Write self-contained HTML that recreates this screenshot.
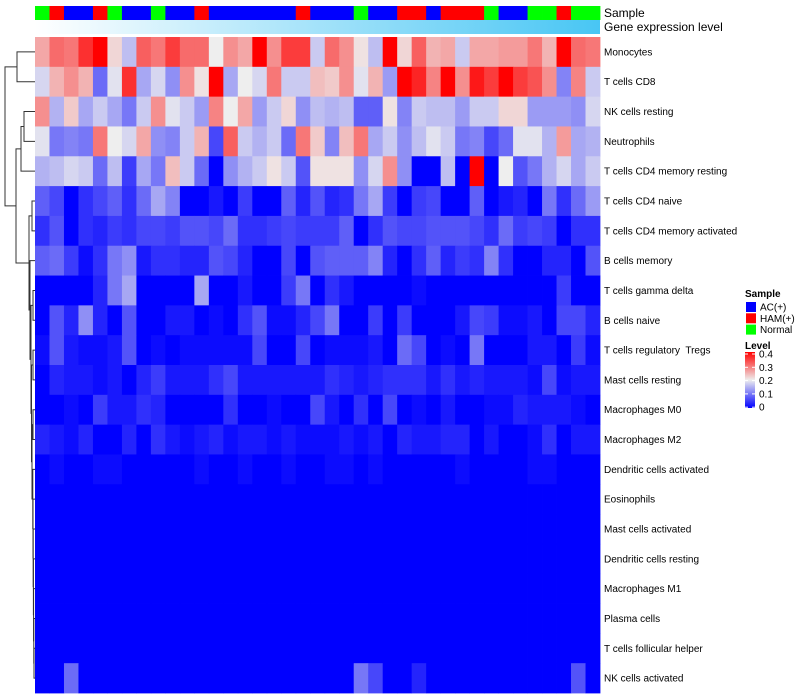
<!DOCTYPE html>
<html><head><meta charset="utf-8"><style>
body{margin:0;background:#fff;}
svg{display:block;font-family:"Liberation Sans",Arial,sans-serif;}
svg text{white-space:pre;}
</style></head><body>
<svg id="chart" width="800" height="700"></svg>
<script>
const rowNames=["Monocytes","T cells CD8","NK cells resting","Neutrophils","T cells CD4 memory resting","T cells CD4 naive","T cells CD4 memory activated","B cells memory","T cells gamma delta","B cells naive","T cells regulatory  Tregs","Mast cells resting","Macrophages M0","Macrophages M2","Dendritic cells activated","Eosinophils","Mast cells activated","Dendritic cells resting","Macrophages M1","Plasma cells","T cells follicular helper","NK cells activated"];
const sampleGroups="GRBBRGBBGBBRBBBBBBRBBBGBBRRBRRRGBBGGRGG".split("");
const r0=[.26,.31,.30,.36,.40,.22,.16,.32,.30,.35,.31,.31,.20,.28,.26,.40,.28,.35,.35,.17,.31,.28,.21,.16,.40,.22,.32,.25,.26,.17,.26,.26,.27,.27,.30,.25,.40,.31,.30];
const r1=[.18,.25,.28,.25,.09,.19,.36,.14,.18,.12,.28,.21,.40,.14,.20,.18,.30,.17,.17,.24,.23,.28,.19,.25,.13,.40,.37,.29,.40,.28,.38,.35,.40,.35,.33,.28,.11,.29,.17];
const r2=[.28,.15,.23,.14,.17,.14,.10,.17,.28,.19,.17,.13,.29,.20,.26,.13,.17,.22,.12,.16,.15,.16,.08,.08,.21,.11,.17,.16,.16,.13,.17,.17,.22,.22,.13,.13,.13,.12,.18];
const r3=[.19,.10,.11,.10,.30,.20,.18,.26,.12,.11,.17,.25,.06,.32,.17,.15,.17,.09,.30,.23,.11,.24,.30,.14,.17,.12,.16,.19,.17,.10,.11,.06,.09,.19,.19,.15,.27,.14,.15];
const r4=[.15,.16,.18,.17,.09,.16,.05,.14,.10,.24,.17,.09,0,.12,.15,.17,.21,.17,.07,.21,.21,.21,.12,.18,.28,.12,0,0,.16,0,.40,0,.20,.07,.10,.15,.18,.14,.17];
const r5=[.08,.06,0,.04,.06,.08,.04,.09,.14,.11,0,0,.02,0,.05,0,0,.08,.03,.07,.03,.04,.10,.14,.05,0,.05,.06,0,0,.08,0,.02,.03,0,.10,.04,.09,.13];
const r6=[.04,.07,0,.04,.03,.05,.04,.06,.06,.05,.07,.07,.06,.09,.04,.04,.05,.06,.05,.05,.05,.08,0,.04,.07,.06,.06,.07,.07,.07,.06,.04,.09,.05,.06,.05,0,.04,.04];
const r7=[.08,.09,.05,.01,.04,.10,.12,.02,.04,.04,.03,.03,.07,.06,.03,0,0,.06,0,.07,.08,.08,.08,.11,.03,0,.04,.08,.03,.05,.04,.11,.04,0,0,.03,.03,0,.07];
const r8=[0,0,0,0,.03,.10,.14,0,0,0,0,.14,0,0,.02,0,0,.05,.10,0,.04,.02,0,0,0,0,.01,0,0,0,0,0,0,0,0,0,.05,0,0];
const r9=[0,.07,.03,.12,.03,0,.07,0,0,.02,.02,0,.01,0,.04,.07,.01,.01,.03,.06,.10,0,0,.05,0,.05,0,0,0,.02,.06,.05,.01,.01,.02,0,.06,.06,.03];
const r10=[.01,.07,.02,.01,.01,.02,.07,0,.01,0,.01,.01,.01,.01,.01,.06,0,0,.06,0,.01,.01,.01,.02,0,.09,.06,0,.01,0,.10,0,0,0,.02,.02,0,.05,.01];
const r11=[0,.03,.02,.02,.01,.02,0,.03,.05,.02,.02,.02,.04,.06,.02,.02,.02,.02,.02,.02,.04,.03,.02,.03,.04,.04,.04,.02,.04,.02,.03,.02,.02,.02,.01,.06,.01,.02,.02];
const r12=[0,0,.01,0,.05,.02,.02,.04,.03,0,0,0,0,.04,0,0,.01,0,0,.06,.02,0,.04,0,.06,0,.01,0,.02,0,0,.01,.01,.03,.02,.02,.02,.01,0];
const r13=[.03,.02,.01,.03,0,0,.03,0,.04,.02,.01,.02,.03,.01,.02,.02,.01,.02,.01,.01,.01,.02,.01,.02,0,.03,.02,.02,.03,.03,0,.02,0,0,.01,.04,0,.02,.02];
const r14=[0,.01,0,0,.01,.01,0,0,0,0,0,.01,0,0,.01,0,0,.01,0,0,.01,.01,0,.01,0,0,0,0,0,.01,0,0,0,0,.01,.01,0,0,0];
const r15=[0,0,0,0,0,0,0,0,0,0,0,0,0,0,0,0,0,0,0,0,0,0,0,0,0,0,0,0,0,0,0,0,0,0,0,0,0,0,0];
const r16=[0,0,0,0,0,0,0,0,0,0,0,0,0,0,0,0,0,0,0,0,0,0,0,0,0,0,0,0,0,0,0,0,0,0,0,0,0,0,0];
const r17=[0,0,0,0,0,0,0,0,0,0,0,0,0,0,0,0,0,0,0,0,0,0,0,0,0,0,0,0,0,0,0,0,0,0,0,0,0,0,0];
const r18=[0,0,0,0,0,0,0,0,0,0,0,0,0,0,0,0,0,0,0,0,0,0,0,0,0,0,0,0,0,0,0,0,0,0,0,0,0,0,0];
const r19=[0,0,0,0,0,0,0,0,0,0,0,0,0,0,0,0,0,0,0,0,0,0,0,0,0,0,0,0,0,0,0,0,0,0,0,0,0,0,0];
const r20=[0,0,0,0,0,0,0,0,0,0,0,0,0,0,0,0,0,0,0,0,0,0,0,0,0,0,0,0,0,0,0,0,0,0,0,0,0,0,0];
const r21=[0,0,.09,0,0,0,0,0,0,0,0,0,0,0,0,0,0,0,0,0,0,0,.10,.06,0,0,.03,0,0,0,0,0,0,0,0,0,0,.07,0];
const levelTicks=["0.4","0.3","0.2","0.1","0"];
const sampleLegend=[["AC(+)","#0000ff"],["HAM(+)","#ff0000"],["Normal","#00ff00"]];

const values=[r0,r1,r2,r3,r4,r5,r6,r7,r8,r9,r10,r11,r12,r13,r14,r15,r16,r17,r18,r19,r20,r21];
const NS="http://www.w3.org/2000/svg";
const svg=document.getElementById("chart");
const X0=35,X1=600,Y0=37,Y1=693;
const nCol=sampleGroups.length,nRow=rowNames.length;
const cw=(X1-X0)/nCol,rh=(Y1-Y0)/nRow;
const xPos=i=>X0+i*cw, yPos=j=>Y0+j*rh;
function color(v){
  let t=Math.max(0,Math.min(0.4,v))/0.4,r,g,b;
  if(t<0.5){const u=t/0.5;r=238*u;g=238*u;b=255-17*u;}
  else{const u=(t-0.5)/0.5;r=238+17*u;g=238*(1-u);b=238*(1-u);}
  return `rgb(${Math.round(r)},${Math.round(g)},${Math.round(b)})`;
}
function el(tag,attrs,parent){const e=document.createElementNS(NS,tag);for(const k in attrs)e.setAttribute(k,attrs[k]);(parent||svg).appendChild(e);return e;}
const gcol={G:"#00ff00",R:"#ff0000",B:"#0000ff"};
for(let i=0;i<nCol;i++){
  const r=el("rect",{x:xPos(i),y:6,width:cw+0.4,height:14,fill:gcol[sampleGroups[i]]});
  
  
}
const defs=el("defs",{});
const lg=el("linearGradient",{id:"gexp",x1:"0",x2:"1",y1:"0",y2:"0"},defs);
el("stop",{offset:"0","stop-color":"#ffffff"},lg);
el("stop",{offset:"1","stop-color":"#48c6f4"},lg);
const gbar=el("rect",{x:X0,y:20,width:X1-X0,height:14,fill:"url(#gexp)"});


const t1=el("text",{x:604,y:17,"font-size":"12",fill:"#000"});t1.textContent="Sample";


const t2=el("text",{x:604,y:31,"font-size":"12",fill:"#000"});t2.textContent="Gene expression level";


for(let j=0;j<nRow;j++){
  for(let i=0;i<nCol;i++){
    const c=el("rect",{x:xPos(i),y:yPos(j),width:cw+0.4,height:rh+0.4,fill:color(values[j][i])});
    
    
  }
  const lab=el("text",{x:604,y:yPos(j)+rh/2+3.5,"font-size":"10",fill:"#000","xml:space":"preserve"});
  lab.textContent=rowNames[j];
  
  
}
const yc=j=>yPos(j)+rh/2;
const dg=el("g",{stroke:"#333","stroke-width":"1",fill:"none"});


function link(ya,xa,yb,xb,xn){el("path",{d:`M${xa},${ya}H${xn}V${yb}H${xb}`},dg);return [(ya+yb)/2,xn];}
let A=link(yc(0),35,yc(1),35,17);
let n23=link(yc(2),35,yc(3),35,24);
let B=link(n23[0],n23[1],yc(4),35,21);
let cur=[yc(21),35];
for(let j=20;j>=14;j--){cur=link(yc(j),35,cur[0],cur[1],34-(20-j)*0.2);}
let m12=link(yc(12),35,yc(13),35,33);
cur=link(m12[0],m12[1],cur[0],cur[1],32);
let m10=link(yc(10),35,yc(11),35,33);
cur=link(m10[0],m10[1],cur[0],cur[1],31.5);
let m89=link(yc(8),35,yc(9),35,33);
cur=link(m89[0],m89[1],cur[0],cur[1],31);
cur=link(yc(7),35,cur[0],cur[1],30);
let m56=link(yc(5),35,yc(6),35,32);
cur=link(m56[0],m56[1],cur[0],cur[1],29);
let BC=link(B[0],B[1],cur[0],cur[1],16);
link(A[0],A[1],BC[0],BC[1],5);
const lgG=el("g",{});


const st=el("text",{x:745,y:297,"font-size":"10","font-weight":"bold"},lgG);st.textContent="Sample";
sampleLegend.forEach((s,k)=>{
  const sw=el("rect",{x:746,y:302+k*11.3,width:10,height:10,fill:s[1]},lgG);
  
  
  const tx=el("text",{x:760,y:310.5+k*11.3,"font-size":"10"},lgG);tx.textContent=s[0];
  
  
});
const lt=el("text",{x:745,y:349,"font-size":"10","font-weight":"bold"},lgG);lt.textContent="Level";
const g2=el("linearGradient",{id:"lvl",x1:"0",x2:"0",y1:"0",y2:"1"},defs);
el("stop",{offset:"0","stop-color":"#ff0000"},g2);
el("stop",{offset:"0.5","stop-color":"#eeeeee"},g2);
el("stop",{offset:"1","stop-color":"#0000ff"},g2);
const cb=el("rect",{x:745,y:352,width:10,height:56,fill:"url(#lvl)"},lgG);


levelTicks.forEach((t,k)=>{
  const yy=354+k*13.3;
  el("line",{x1:745,x2:748,y1:yy,y2:yy,stroke:"#fff"},lgG);
  el("line",{x1:752,x2:755,y1:yy,y2:yy,stroke:"#fff"},lgG);
  const tx=el("text",{x:759,y:yy+3.5,"font-size":"10"},lgG);tx.textContent=t;
  
  
});
</script>
</body></html>
